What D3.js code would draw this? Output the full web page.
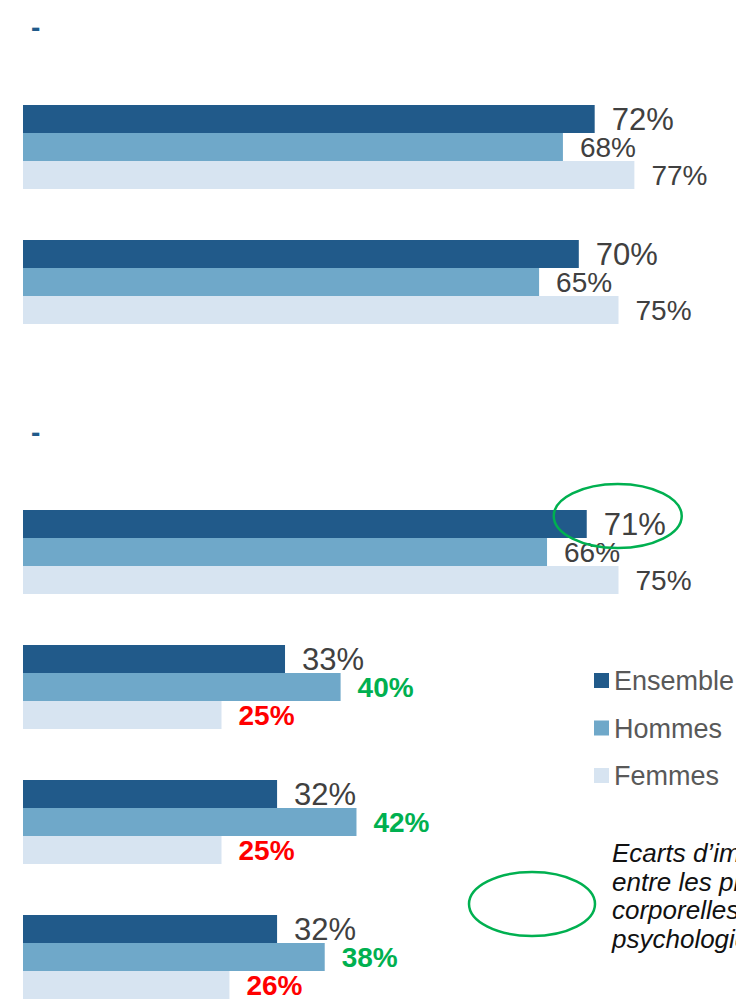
<!DOCTYPE html>
<html>
<head>
<meta charset="utf-8">
<script src="https://cdn.jsdelivr.net/npm/d3@7"></script>
<style>
  html, body { margin: 0; padding: 0; background: #fff; }
  svg { display: block; font-family: Arial, "Liberation Sans", sans-serif; }
</style>
</head>
<body>
<svg id="chart" width="736" height="999"></svg>
<script>
// Series names shown in the legend
const seriesNames = ["Ensemble", "Hommes", "Femmes"];

// Item slots: the first block holds slots 0-1, the second block slots 3-6
const itemSlots = [0, 1, 3, 4, 5, 6];

// Percentages per item
const ensembleValues = [72, 70, 71, 33, 32, 32];
const hommesValues   = [68, 65, 66, 40, 42, 38];
const femmesValues   = [77, 75, 75, 25, 25, 26];

// Significant gaps between men and women ("+" higher, "-" lower, "" none)
const hommesGap = ["", "", "", "+", "+", "+"];
const femmesGap = ["", "", "", "-", "-", "-"];

// Item whose overall value is circled
const circledItem = 2;

// Section headings, placed above slot 0 and slot 3
const sectionHeadings = ["-", "-"];
const sectionSlots = [0, 3];

// Note beside the circle in the legend
const noteLines = [
  "Ecarts d\u2019importance significatifs",
  "entre les plaintes",
  "corporelles et",
  "psychologiques"
];

const colors = { Ensemble: "#215a8a", Hommes: "#6fa8c9", Femmes: "#d7e4f1" };
const labelGrey = "#404040";
const green = "#00b050";
const red = "#ff0000";

const svg = d3.select("#chart");

const x = d3.scaleLinear().domain([0, 100]).range([23, 817]);
const slotY = d3.scaleLinear().domain([0, 6]).range([105, 915]);
const barY = d3.scaleBand().domain(seriesNames).range([0, 84]);

const items = itemSlots.map((slot, i) => ({
  slot,
  values: [
    { series: "Ensemble", value: ensembleValues[i], gap: "" },
    { series: "Hommes", value: hommesValues[i], gap: hommesGap[i] },
    { series: "Femmes", value: femmesValues[i], gap: femmesGap[i] }
  ],
  index: i
}));

// Section headings
svg.selectAll("text.heading")
  .data(sectionHeadings)
  .join("text")
  .attr("class", "heading")
  .attr("x", 31)
  .attr("y", (d, i) => slotY(sectionSlots[i]) - 68)
  .attr("font-size", 28)
  .attr("font-weight", "bold")
  .attr("fill", colors.Ensemble)
  .text(d => d);

const groups = svg.selectAll("g.item")
  .data(items)
  .join("g")
  .attr("class", "item")
  .attr("transform", d => `translate(0,${slotY(d.slot)})`);

groups.selectAll("rect")
  .data(d => d.values)
  .join("rect")
  .attr("x", x(0))
  .attr("y", d => barY(d.series))
  .attr("width", d => x(d.value) - x(0))
  .attr("height", barY.bandwidth())
  .attr("fill", d => colors[d.series]);

groups.selectAll("text.value")
  .data(d => d.values)
  .join("text")
  .attr("class", "value")
  .attr("x", d => x(d.value) + 17)
  .attr("y", d => barY(d.series) + barY.bandwidth() / 2)
  .attr("dy", "0.37em")
  .attr("font-size", d => d.series === "Ensemble" ? 31 : 28)
  .attr("font-weight", d => d.gap ? "bold" : "normal")
  .attr("fill", d => d.gap === "+" ? green : d.gap === "-" ? red : labelGrey)
  .text(d => d.value + "%");

// Circle around the highlighted overall value
const ci = items[circledItem];
svg.append("ellipse")
  .attr("cx", x(ci.values[0].value) + 31)
  .attr("cy", slotY(ci.slot) + barY("Ensemble") + barY.bandwidth() / 2 - 8)
  .attr("rx", 64)
  .attr("ry", 32)
  .attr("fill", "none")
  .attr("stroke", green)
  .attr("stroke-width", 2.5);

// Legend
const legend = svg.append("g").attr("transform", "translate(594,690)");
const legendRows = legend.selectAll("g")
  .data(seriesNames)
  .join("g")
  .attr("transform", (d, i) => `translate(0,${i * 47.5})`);
legendRows.append("rect")
  .attr("x", 0).attr("y", -17)
  .attr("width", 15).attr("height", 15)
  .attr("fill", d => colors[d]);
legendRows.append("text")
  .attr("x", 20).attr("y", 0)
  .attr("font-size", 27)
  .attr("fill", "#595959")
  .text(d => d);

// Circle key and its note
svg.append("ellipse")
  .attr("cx", 532).attr("cy", 904)
  .attr("rx", 63).attr("ry", 32)
  .attr("fill", "none")
  .attr("stroke", green)
  .attr("stroke-width", 2.5);

svg.append("text")
  .attr("x", 612).attr("y", 862)
  .attr("font-size", 26)
  .attr("font-style", "italic")
  .attr("fill", "#111")
  .selectAll("tspan")
  .data(noteLines)
  .join("tspan")
  .attr("x", 612)
  .attr("dy", (d, i) => i === 0 ? 0 : 28.5)
  .text(d => d);
</script>
</body>
</html>
